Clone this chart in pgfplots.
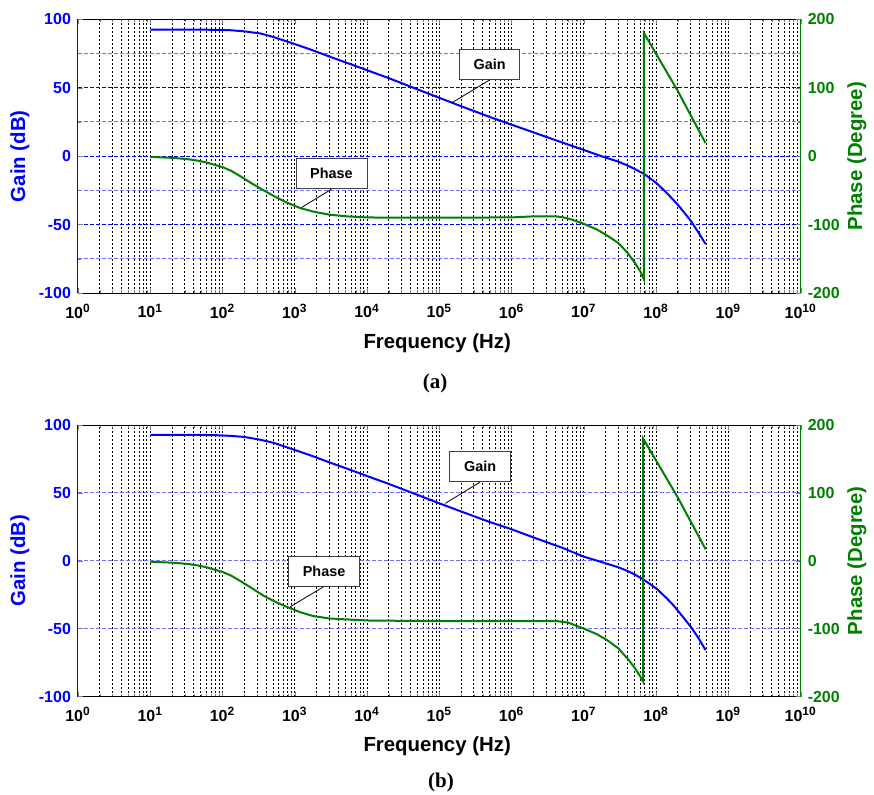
\documentclass[border=0pt]{standalone}
\usepackage{fontspec}
\setmainfont{Liberation Sans}
\newfontfamily\capfont{Liberation Serif}
\usepackage{pgfplots}
\pgfplotsset{compat=1.18}

\definecolor{mblue}{RGB}{0,0,255}
\definecolor{mgreen}{RGB}{0,128,0}
\definecolor{gridlt}{RGB}{110,110,255}

\newcommand{\tickfont}{\bfseries\fontsize{8}{9}\selectfont}
\newcommand{\labfont}{\bfseries\fontsize{10.2}{12}\selectfont}
\newcommand{\boxfont}{\bfseries\fontsize{7.2}{8}\selectfont}
\newcommand{\capsize}{\capfont\bfseries\fontsize{10.5}{12}\selectfont}

\tikzset{abox/.style={draw=black!75, line width=0.4pt, fill=white, font=\boxfont,
    minimum width=30pt, minimum height=15pt, inner sep=1pt}}

\begin{document}
\begin{tikzpicture}
\path[use as bounding box] (0pt,0pt) rectangle (437pt,-397pt);

% ---------- (a) gain ----------
\begin{axis}[at={(39pt,-9.65pt)}, anchor=north west,
    scale only axis, width=361.35pt, height=136.85pt,
    xmode=log, xmin=1, xmax=1e10, ymin=-100, ymax=100, axis y line*=left,
    tick align=inside, major tick length=2.5pt, minor tick length=1.5pt,
    tick label style={font=\tickfont}, axis line style={line width=0.5pt},
    ytick={-50,0,50}, yticklabels={-50,0,50},
    extra y ticks={-100,100}, extra y tick labels={-100,100},
    extra y tick style={grid=none},
    minor ytick={-75,-25,25,75},
    yticklabel style={text=mblue}, y axis line style={mblue},
    xtick={1,1e1,1e2,1e3,1e4,1e5,1e6,1e7,1e8,1e9,1e10},
    xticklabels={10\textsuperscript{0},10\textsuperscript{1},10\textsuperscript{2},10\textsuperscript{3},10\textsuperscript{4},10\textsuperscript{5},10\textsuperscript{6},10\textsuperscript{7},10\textsuperscript{8},10\textsuperscript{9},10\textsuperscript{10}},
    xticklabel shift=2pt,
    xmajorgrids, xminorgrids, ymajorgrids, yminorgrids,
    major x grid style={black, line width=0.5pt, dash pattern=on 1pt off 1pt},
    minor x grid style={black, line width=0.5pt, dash pattern=on 1pt off 1pt},
    major y grid style={mblue, line width=0.6pt, dash pattern=on 2pt off 1pt},
    minor y grid style={gridlt, line width=0.45pt, dash pattern=on 2pt off 1pt},
    xlabel={Frequency (Hz)},
    xlabel style={font=\labfont, at={(axis description cs:0.497,-0.183)}, anchor=center},
    ylabel={Gain (dB)},
    ylabel style={font=\labfont, text=mblue, at={(axis description cs:-0.0803,0.5)}, anchor=center}]
\addplot[mblue, line width=1pt] coordinates {
(10,92.5) (30,92.5) (60,92.4) (100,92.2) (130,92.0) (200,91.2) (330,89.7)
(500,87.2) (700,84.6) (1000,81.9) (1500,78.7) (2000,76.3) (3000,72.8)
(5000,68.6) (1e4,62.8) (2e4,57.0) (5e4,48.8) (1e5,42.6) (2e5,36.5)
(5e5,28.6) (1e6,23.0) (2e6,17.4) (5e6,10.0) (1e7,4.5) (1.9e7,-0.7)
(3e7,-4.0) (4e7,-6.8) (5.01e7,-9.3) (6.76e7,-12.9) (8.3e7,-16.3)
(1.035e8,-20.2) (1.41e8,-27.0) (1.95e8,-34.9) (2.4e8,-40.7) (3.0e8,-47.1)
(3.8e8,-55.3) (4.83e8,-64.2)};
\node[abox, minimum width=30pt] (ga) at (axis cs:4.98e5,67) {Gain};
\draw[line width=0.4pt] (ga.south) -- (axis cs:1.5e5,39.1);
\node[abox, minimum width=35.5pt] (pa) at (axis cs:3214,-12.9) {Phase};
\draw[line width=0.4pt] (pa.south) -- (axis cs:1189,-38.1);
\end{axis}

% ---------- (a) phase ----------
\begin{axis}[at={(39pt,-9.65pt)}, anchor=north west,
    scale only axis, width=361.35pt, height=136.85pt,
    xmode=log, xmin=1, xmax=1e10, ymin=-200, ymax=200,
    axis x line=none, axis y line*=right,
    tick align=inside, major tick length=2.5pt, minor tick length=1.5pt,
    tick label style={font=\tickfont}, axis line style={line width=0.5pt},
    ytick={-200,-100,0,100,200}, yticklabels={-200,-100,0,100,200},
    minor ytick={-150,-50,50,150},
    yticklabel style={text=mgreen}, y axis line style={mgreen},
    ylabel={Phase (Degree)},
    ylabel style={font=\labfont, text=mgreen, at={(axis description cs:1.0779,0.5)}, anchor=center}]
\addplot[mgreen, line width=1pt] coordinates {
(10,-1) (20,-2.5) (32,-4.2) (45,-6.5) (60,-9.3) (80,-13) (100,-16) (132,-21.5)
(174,-29) (251,-39.5) (370,-50) (550,-60) (780,-68) (1200,-76) (1800,-81)
(3000,-85.5) (5200,-88) (1e4,-89.5) (2e4,-90) (1e5,-90) (1e6,-89.5)
(2e6,-88) (4e6,-88) (5e6,-89) (7e6,-93) (1e7,-99) (1.5e7,-107) (2.1e7,-116)
(3e7,-127) (4e7,-141) (5e7,-155) (6e7,-168) (6.76e7,-180) (6.76e7,180)
(1.95e8,97) (4.83e8,19)};
\end{axis}
\node[font=\capsize] at (217.5pt,-191.5pt) {(a)};

% ---------- (b) gain ----------
\begin{axis}[at={(39pt,-212.5pt)}, anchor=north west,
    scale only axis, width=361.35pt, height=135.75pt,
    xmode=log, xmin=1, xmax=1e10, ymin=-100, ymax=100, axis y line*=left,
    tick align=inside, major tick length=2.5pt, minor tick length=1.5pt,
    tick label style={font=\tickfont}, axis line style={line width=0.5pt},
    ytick={-50,0,50}, yticklabels={-50,0,50},
    extra y ticks={-100,100}, extra y tick labels={-100,100},
    extra y tick style={grid=none},
    yticklabel style={text=mblue}, y axis line style={mblue},
    xtick={1,1e1,1e2,1e3,1e4,1e5,1e6,1e7,1e8,1e9,1e10},
    xticklabels={10\textsuperscript{0},10\textsuperscript{1},10\textsuperscript{2},10\textsuperscript{3},10\textsuperscript{4},10\textsuperscript{5},10\textsuperscript{6},10\textsuperscript{7},10\textsuperscript{8},10\textsuperscript{9},10\textsuperscript{10}},
    xticklabel shift=2pt,
    xmajorgrids, xminorgrids, ymajorgrids,
    major x grid style={black, line width=0.5pt, dash pattern=on 1pt off 1pt},
    minor x grid style={black, line width=0.5pt, dash pattern=on 1pt off 1pt},
    major y grid style={gridlt, line width=0.45pt, dash pattern=on 2pt off 1pt},
    xlabel={Frequency (Hz)},
    xlabel style={font=\labfont, at={(axis description cs:0.497,-0.183)}, anchor=center},
    ylabel={Gain (dB)},
    ylabel style={font=\labfont, text=mblue, at={(axis description cs:-0.0803,0.5)}, anchor=center}]
\addplot[mblue, line width=1pt] coordinates {
(10,92.8) (30,92.8) (74,92.6) (100,92.3) (130,92.0) (200,91.2) (330,89.2)
(500,87.0) (700,84.4) (1000,81.6) (1500,78.4) (2000,76.0) (3000,72.5)
(5000,68.3) (1e4,62.4) (2e4,56.6) (5e4,48.5) (1e5,42.3) (2e5,36.3)
(5e5,28.5) (1e6,23.2) (2e6,17.2) (5e6,9.6) (1e7,3.0) (1.9e7,-1.5)
(3e7,-4.8) (4e7,-7.5) (5e7,-10.0) (6.6e7,-13.7) (8.3e7,-17.3)
(1.035e8,-21.0) (1.41e8,-27.8) (1.76e8,-33.2) (2.4e8,-42.0) (3.0e8,-48.5)
(3.8e8,-56.5) (4.83e8,-65.8)};
\node[abox, minimum width=30.5pt] (gb) at (axis cs:3.66e5,69.3) {Gain};
\draw[line width=0.4pt] (gb.south) -- (axis cs:1.21e5,42.3);
\node[abox, minimum width=35.5pt] (pb) at (axis cs:2541,-7.6) {Phase};
\draw[line width=0.4pt] (pb.south) -- (axis cs:863,-33.9);
\end{axis}

% ---------- (b) phase ----------
\begin{axis}[at={(39pt,-212.5pt)}, anchor=north west,
    scale only axis, width=361.35pt, height=135.75pt,
    xmode=log, xmin=1, xmax=1e10, ymin=-200, ymax=200,
    axis x line=none, axis y line*=right,
    tick align=inside, major tick length=2.5pt, minor tick length=1.5pt,
    tick label style={font=\tickfont}, axis line style={line width=0.5pt},
    ytick={-200,-100,0,100,200}, yticklabels={-200,-100,0,100,200},
    yticklabel style={text=mgreen}, y axis line style={mgreen},
    ylabel={Phase (Degree)},
    ylabel style={font=\labfont, text=mgreen, at={(axis description cs:1.0779,0.5)}, anchor=center}]
\addplot[mgreen, line width=1pt] coordinates {
(10,-1.5) (20,-2.8) (32,-4.5) (45,-6.8) (60,-9.6) (80,-13.5) (100,-16.5)
(132,-22) (174,-29.5) (251,-40) (370,-51.6) (550,-61) (780,-68) (1200,-76)
(1800,-81.5) (3000,-85) (5200,-86.4) (1e4,-88) (1e5,-89) (1e6,-89)
(4.3e6,-89) (6e6,-91) (1e7,-100) (1.5e7,-108) (2.1e7,-117) (3e7,-129)
(4e7,-144) (5e7,-157) (6e7,-170) (6.6e7,-178) (6.6e7,180) (1.95e8,95)
(4.83e8,17)};
\end{axis}
\node[font=\capsize] at (220.5pt,-391pt) {(b)};
\end{tikzpicture}
\end{document}
